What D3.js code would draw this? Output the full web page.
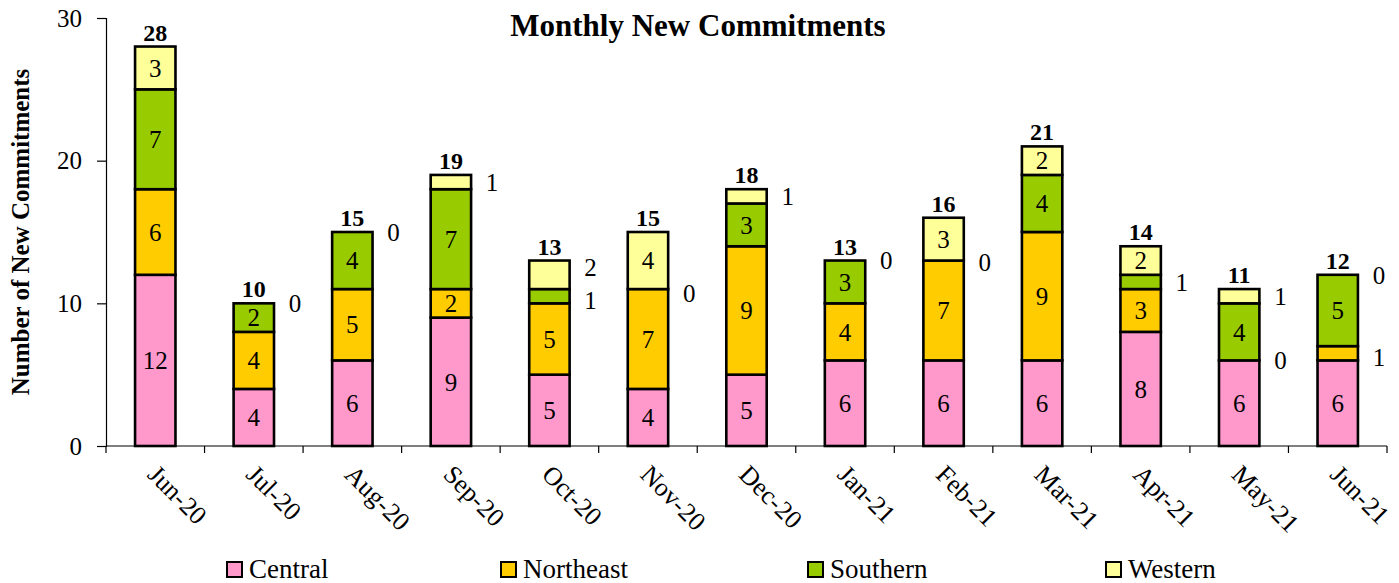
<!DOCTYPE html>
<html>
<head>
<meta charset="utf-8">
<script src="https://cdn.jsdelivr.net/npm/d3@7"></script>
<style>
  html, body { margin: 0; padding: 0; background: #fff; }
  svg { display: block; }
</style>
</head>
<body>
<svg id="chart" width="1399" height="583"></svg>
<script>
// ---- data ----
const months = ["Jun-20","Jul-20","Aug-20","Sep-20","Oct-20","Nov-20","Dec-20","Jan-21","Feb-21","Mar-21","Apr-21","May-21","Jun-21"];
const seriesNames = ["Central","Northeast","Southern","Western"];
const central   = [12, 4, 6, 9, 5, 4, 5, 6, 6, 6, 8, 6, 6];
const northeast = [ 6, 4, 5, 2, 5, 7, 9, 4, 7, 9, 3, 0, 1];
const southern  = [ 7, 2, 4, 7, 1, 0, 3, 3, 0, 4, 1, 4, 5];
const western   = [ 3, 0, 0, 1, 2, 4, 1, 0, 3, 2, 2, 1, 0];
const yTicks = [0, 10, 20, 30];
// segments whose value label sits to the right of the bar [monthIndex, seriesName, vertical nudge px]
const outsideLabels = [[1,"Western",0],[2,"Western",0],[3,"Western",0],[4,"Southern",4],[4,"Western",-8],
  [5,"Southern",4],[6,"Western",0],[7,"Western",0],[8,"Southern",2],[10,"Southern",0],
  [11,"Northeast",0],[11,"Western",0],[12,"Northeast",4],[12,"Western",0]];
const colors = ["#FF99CC","#FFCC00","#99CC00","#FFFF99"];

(function () {
const FONT = "'Liberation Serif', 'Times New Roman', serif";
const valuesBySeries = [central, northeast, southern, western];
const table = months.map((m, i) => {
  const row = { month: m };
  seriesNames.forEach((s, k) => row[s] = valuesBySeries[k][i]);
  return row;
});
const stacked = d3.stack().keys(seriesNames)(table);
const totals = table.map(r => d3.sum(seriesNames, s => r[s]));

const svg = d3.select("#chart");
const pLeft = 106, pRight = 1387, pTop = 18, pBottom = 446;

const x = d3.scaleBand().domain(months).range([pLeft, pRight]).paddingInner(0.59).paddingOuter(0.295);
const y = d3.scaleLinear().domain([0, 30]).range([pBottom, pTop]);
const color = d3.scaleOrdinal().domain(seriesNames).range(colors);

// ---- y axis ----
const yAxis = svg.append("g").attr("transform", `translate(${pLeft},0)`)
  .call(d3.axisLeft(y).tickValues(yTicks).tickSize(9).tickPadding(15).tickFormat(d3.format("d")));
yAxis.select(".domain").attr("stroke", "#000").attr("stroke-width", 1.2);
yAxis.selectAll(".tick line").attr("stroke", "#000").attr("stroke-width", 1.2);
yAxis.selectAll(".tick text").style("font-size", "25px").style("font-family", FONT).attr("fill", "#000");

// ---- x axis ----
const step = x.step();
const bounds = d3.range(months.length + 1).map(i => pLeft + i * step);
const xg = svg.append("g");
xg.append("line").attr("x1", pLeft).attr("x2", pRight).attr("y1", pBottom).attr("y2", pBottom)
  .attr("stroke", "#000").attr("stroke-width", 1.2);
xg.selectAll("line.t").data(bounds).join("line").attr("class", "t")
  .attr("x1", d => d).attr("x2", d => d).attr("y1", pBottom).attr("y2", pBottom + 7)
  .attr("stroke", "#000").attr("stroke-width", 1.2);
xg.selectAll("text").data(months).join("text")
  .attr("transform", d => `translate(${x(d) + x.bandwidth() / 2 - 9},${476}) rotate(45)`)
  .attr("text-anchor", "start")
  .style("font-family", FONT).style("font-size", "26px")
  .text(d => d);

// ---- bars ----
const layers = svg.append("g").selectAll("g").data(stacked).join("g")
  .attr("fill", d => color(d.key));
layers.selectAll("rect").data(d => d.map(p => ({ p, key: d.key })).filter(d => d.p[1] - d.p[0] > 0)).join("rect")
  .attr("x", d => x(d.p.data.month))
  .attr("width", x.bandwidth())
  .attr("y", d => y(d.p[1]))
  .attr("height", d => y(d.p[0]) - y(d.p[1]))
  .attr("stroke", "#000").attr("stroke-width", 2.6);

// ---- value labels ----
const findOutside = (i, key) => outsideLabels.find(o => o[0] === i && o[1] === key);
const labelG = svg.append("g");
stacked.forEach(layer => {
  layer.forEach((p, i) => {
    const v = p[1] - p[0];
    const mid = (p[0] + p[1]) / 2;
    const out = findOutside(i, layer.key);
    labelG.append("text")
      .attr("x", out ? x(months[i]) + x.bandwidth() + 21 : x(months[i]) + x.bandwidth() / 2)
      .attr("y", y(mid) + (out ? out[2] : 0))
      .attr("dy", "0.35em")
      .attr("text-anchor", "middle")
      .style("font-family", FONT).style("font-size", "25px")
      .text(v);
  });
});

// ---- totals ----
svg.append("g").selectAll("text").data(totals).join("text")
  .attr("x", (d, i) => x(months[i]) + x.bandwidth() / 2)
  .attr("y", d => y(d) - 6)
  .attr("text-anchor", "middle")
  .style("font-family", FONT).style("font-size", "24px").style("font-weight", "bold")
  .text(d => d);

// ---- titles ----
svg.append("text").attr("x", 698).attr("y", 36).attr("text-anchor", "middle")
  .style("font-family", FONT).style("font-size", "31px").style("font-weight", "bold")
  .text("Monthly New Commitments");

svg.append("text").attr("transform", `translate(29,232) rotate(-90)`).attr("text-anchor", "middle")
  .style("font-family", FONT).style("font-size", "25px").style("font-weight", "bold")
  .text("Number of New Commitments");

// ---- legend ----
const legendX = [227, 501, 808, 1106];
const lg = svg.append("g").selectAll("g").data(seriesNames).join("g")
  .attr("transform", (d, i) => `translate(${legendX[i]},562)`);
lg.append("rect").attr("width", 15).attr("height", 15).attr("fill", d => color(d))
  .attr("stroke", "#000").attr("stroke-width", 2);
lg.append("text").attr("x", 22).attr("y", 16)
  .style("font-family", FONT).style("font-size", "27px").text(d => d);
})();
</script>
</body>
</html>
